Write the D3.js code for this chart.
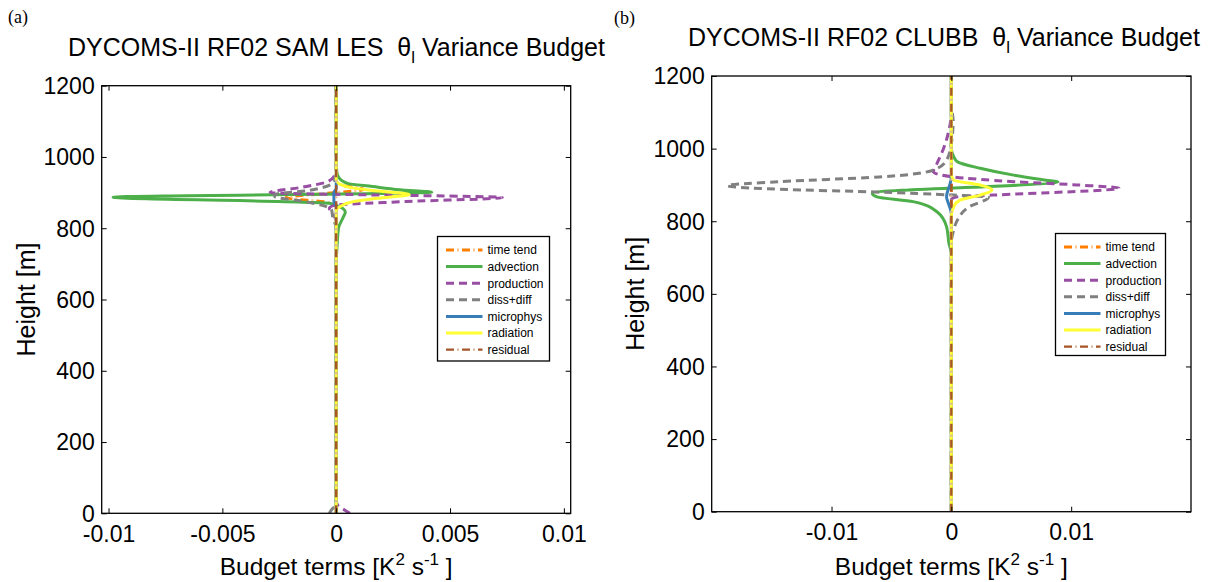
<!DOCTYPE html>
<html lang="en">
<head>
<meta charset="UTF-8">
<title>DYCOMS-II RF02 theta_l variance budget</title>
<style>
    body { margin:0; background:#fff; }
    svg text { font-family: "Liberation Sans", Arial, sans-serif; fill:#000; }
    .tick text { font-size:23px; }
    .lab { font-family: "Liberation Serif", "Times New Roman", serif !important; font-size:18px; }
</style>
</head>
<body>
<script src="https://cdn.jsdelivr.net/npm/d3@7"></script>
<script>
// series: [height (m), value (K^2 s^-1)]
var names = ["time tend","advection","production","diss+diff","microphys","radiation","residual"];
var colors = ["#ff7f00","#4daf4a","#984ea3","#808080","#377eb8","#ffff33","#a65628"];

// (a) SAM LES
var timeTendA = [[0,0],[860,0],[872,-0.0003],[886,-0.0022],[898,-0.0004],[909,0.0012],[920,0.0003],[935,0],[1200,0]];
var advectionA = [[0,0],[700,0],[760,0.00005],[800,0.0001],[830,0.0003],[845,0.0004],[855,0.0003],[864,0],[870,-0.0003],[887,-0.0098],[901,0.0042],[908,0.0028],[917,0.0016],[926,0.0005],[944,0.0001],[962,0.00002],[1000,0],[1200,0]];
var productionA = [[0,0.0006],[8,0.0004],[20,0.0001],[35,0],[820,0],[845,-0.0002],[856,-0.0003],[864,-0.0001],[875,0.0031],[886,0.0073],[900,-0.0029],[915,-0.0015],[930,-0.0004],[945,-0.0001],[965,0],[1200,0]];
var dissA = [[0,-0.0003],[10,-0.0002],[25,0],[800,0],[830,-0.00015],[850,-0.0002],[864,-0.0006],[874,-0.0013],[889,-0.0027],[895,-0.0027],[905,-0.0013],[930,-0.0001],[960,0],[1200,0]];
var microA = [[0,0],[860,0],[875,-0.0001],[900,-0.0001],[912,0],[1200,0]];
var radiationA = [[0,0],[850,0],[862,0.0002],[874,0.0007],[884,0.0018],[895,0.0032],[906,0.0016],[916,0.0005],[935,0],[1200,0]];
var residualA = [[0,0],[1200,0]];

// (b) CLUBB
var timeTendB = [[0,0],[1200,0]];
var advectionB = [[0,0],[709,0],[739,-0.0002],[785,-0.0004],[826,-0.0012],[854,-0.0032],[867,-0.0062],[877,-0.0066],[909,0.0089],[913,0.0079],[927,0.0052],[946,0.0024],[964,0.0005],[978,0.0002],[1000,0],[1200,0]];
var productionB = [[0,0],[860,0],[867,0.0005],[872,0.0035],[891,0.014],[900,0.0105],[909,0.0052],[922,0.0002],[936,-0.0015],[959,-0.0012],[996,-0.0007],[1051,-0.0002],[1100,0],[1200,0]];
var dissB = [[0,0],[740,0],[776,0.0002],[803,0.0005],[840,0.0015],[866,0.0031],[872,0.0002],[881,-0.0068],[888,-0.0143],[898,-0.0187],[909,-0.0143],[922,-0.006],[941,-0.0015],[968,-0.0004],[1014,0],[1078,0.00015],[1120,0],[1200,0]];
var microB = [[0,0],[822,0],[845,-0.0002],[867,-0.0004],[904,-0.0001],[920,0],[1200,0]];
var radiationB = [[0,0],[814,0],[840,0.0002],[858,0.0007],[872,0.0024],[886,0.0034],[900,0.0024],[913,0.0002],[930,0],[1200,0]];
var residualB = [[0,0],[1200,0]];

var yTicks = [0,200,400,600,800,1000,1200];
var xTicksA = [-0.01,-0.005,0,0.005,0.01];
var xTicksB = [-0.01,0,0.01];

var W = 1222, H = 582;
var svg = d3.select("body").append("svg").attr("width",W).attr("height",H);

var panels = [
    {tag:"(a)", model:"SAM LES", series:[timeTendA,advectionA,productionA,dissA,microA,radiationA,residualA],
     left:101.7, right:570.7, top:85.7, bottom:513.3, xdom:[-0.0103,0.0103], xticks:xTicksA,
     tagX:8, tagY:23, titleX:336.5, titleY:56, legend:{x:437.5, y:236.5, w:112, h:124.5}, ylabX:35},
    {tag:"(b)", model:"CLUBB", series:[timeTendB,advectionB,productionB,dissB,microB,radiationB,residualB],
     left:711.7, right:1191, top:76, bottom:511.7, xdom:[-0.02,0.02], xticks:xTicksB,
     tagX:614, tagY:24, titleX:944, titleY:46, legend:{x:1055.5, y:233.5, w:110, h:122}, ylabX:644}
];

function drawStroke(path, i, parent, d) {
    path.attr("fill","none").attr("stroke",colors[i]).attr("stroke-width",3);
    if (i === 0 || i === 6) {
        // dash-dot: dark dash + pale dot
        var pale = i === 0 ? "#fdc590" : "#dcb79c";
        var sw = i === 0 ? 3 : 2.4;
        path.attr("stroke-dasharray","8 8").attr("stroke-width",sw);
        parent.append("path").attr("d",d).attr("fill","none").attr("stroke",pale)
            .attr("stroke-width",sw)
            .attr("stroke-dasharray","2 14").attr("stroke-dashoffset",-11);
    } else if (i === 2 || i === 3) {
        path.attr("stroke-dasharray","8 5");
    }
}

panels.forEach(function (p, pi) {
    var x = d3.scaleLinear().domain(p.xdom).range([p.left,p.right]);
    var y = d3.scaleLinear().domain([0,1200]).range([p.bottom,p.top]);
    var g = svg.append("g");

    var clipId = "clip"+pi;
    svg.append("clipPath").attr("id",clipId).append("rect")
        .attr("x",p.left).attr("y",p.top).attr("width",p.right-p.left).attr("height",p.bottom-p.top);

    var line = d3.line()
        .x(function (d) { return x(d[1]); })
        .y(function (d) { return y(d[0]); })
        .curve(d3.curveMonotoneY);

    var plot = g.append("g").attr("clip-path","url(#"+clipId+")");
    p.series.forEach(function (s, i) {
        drawStroke(plot.append("path").attr("d",line(s)), i, plot, line(s));
    });

    // box
    g.append("rect").attr("x",p.left).attr("y",p.top).attr("width",p.right-p.left).attr("height",p.bottom-p.top)
        .attr("fill","none").attr("stroke","#000").attr("stroke-width",1.3);

    // axes, ticks inside on all four sides
    var fmt = function (d) { return String(d); };
    var ax = g.append("g").attr("transform","translate(0,"+p.bottom+")")
        .call(d3.axisBottom(x).tickValues(p.xticks).tickSize(-5).tickPadding(12).tickFormat(fmt));
    var axT = g.append("g").attr("transform","translate(0,"+p.top+")")
        .call(d3.axisTop(x).tickValues(p.xticks).tickSize(-5).tickFormat(""));
    var ay = g.append("g").attr("transform","translate("+p.left+",0)")
        .call(d3.axisLeft(y).tickValues(yTicks).tickSize(-5).tickPadding(7).tickFormat(fmt));
    var ayR = g.append("g").attr("transform","translate("+p.right+",0)")
        .call(d3.axisRight(y).tickValues(yTicks).tickSize(-5).tickFormat(""));
    [ax,axT,ay,ayR].forEach(function (a) {
        a.select(".domain").remove();
        a.selectAll(".tick line").attr("stroke","#000").attr("stroke-width",1);
        a.selectAll("text").attr("font-family",null).attr("font-size",null);
    });
    ay.selectAll(".tick text").attr("dy","0.34em");

    // titles
    svg.append("text").attr("class","lab").attr("x",p.tagX).attr("y",p.tagY).text(p.tag);
    var t = svg.append("text").attr("x",p.titleX).attr("y",p.titleY)
        .attr("text-anchor","middle").attr("font-size",25);
    t.append("tspan").text("DYCOMS-II RF02 "+p.model+"\u00a0 \u03b8");
    t.append("tspan").attr("font-size",17).attr("dy",7).text("l");
    t.append("tspan").attr("dy",-7).text(" Variance Budget");

    var xl = svg.append("text").attr("x",(p.left+p.right)/2).attr("y",575)
        .attr("text-anchor","middle").attr("font-size",24.5);
    xl.append("tspan").text("Budget terms [K");
    xl.append("tspan").attr("font-size",17).attr("dy",-10).text("2");
    xl.append("tspan").attr("dy",10).text(" s");
    xl.append("tspan").attr("font-size",17).attr("dy",-10).text("-1");
    xl.append("tspan").attr("dy",10).text(" ]");

    svg.append("text").attr("transform","translate("+p.ylabX+","+((p.top+p.bottom)/2)+") rotate(-90)")
        .attr("text-anchor","middle").attr("font-size",25).text("Height [m]");

    // legend
    var L = p.legend;
    var lg = svg.append("g");
    lg.append("rect").attr("x",L.x).attr("y",L.y).attr("width",L.w).attr("height",L.h)
        .attr("fill","#fff").attr("stroke","#000").attr("stroke-width",1.3);
    names.forEach(function (n, i) {
        var yy = L.y + 13.5 + i*16.6;
        var d = "M"+(L.x+8.5)+","+yy+"H"+(L.x+45);
        drawStroke(lg.append("path").attr("d",d), i, lg, d);
        lg.append("text").attr("x",L.x+50).attr("y",yy+4.3).attr("font-size",12).text(n);
    });
});
</script>
</body>
</html>
